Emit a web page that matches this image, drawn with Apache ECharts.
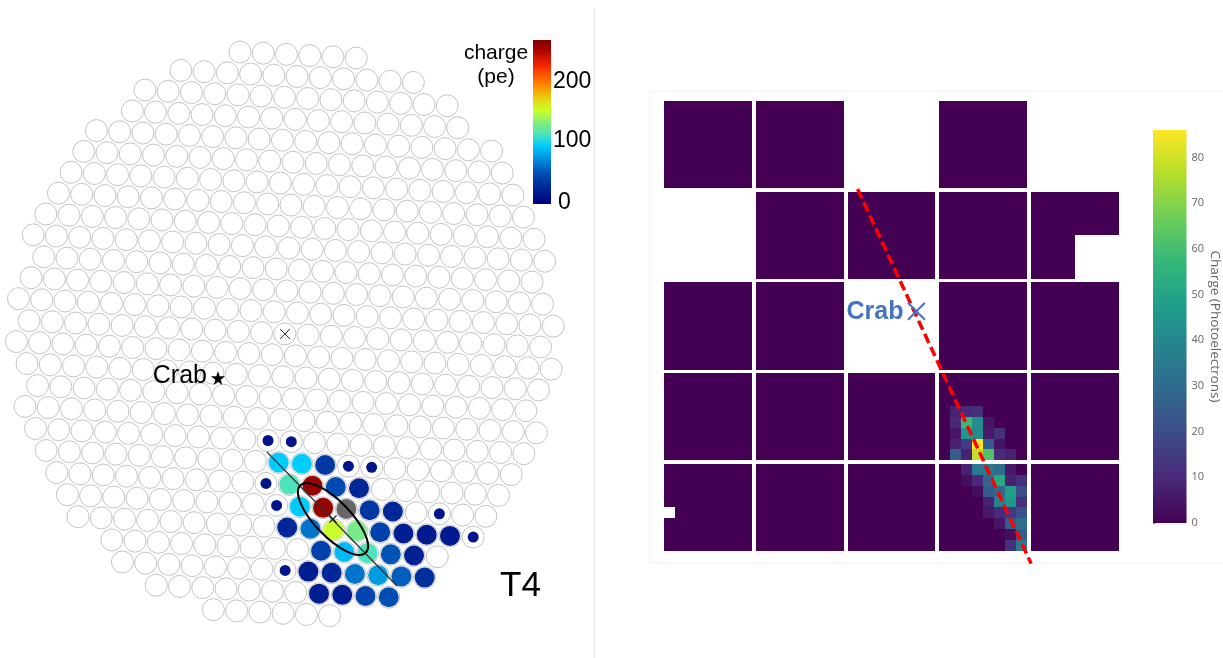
<!DOCTYPE html>
<html>
<head>
<meta charset="utf-8">
<style>html,body{margin:0;padding:0;background:#fff}#chart{width:1223px;height:658px}</style>
<script src="https://cdn.jsdelivr.net/npm/echarts@6/dist/echarts.min.js"></script>
</head>
<body>
<div id="chart"></div>
<script>
// ---- Left camera: lattice rows (row j runs from rowFirst[j] to rowLast[j])
const rowFirst = [0,-2,-3,-3,-4,-4,-4,-4,-4,-4,-3,-3,-3,-2,-2,-1,0,0,1,2,3,4,5,7,8,10,13];
const rowLast  = [5,8,10,11,13,14,15,16,17,18,18,19,20,20,21,21,21,22,22,22,22,22,22,21,21,20,18];
// [i, j, charge in pe]
const hitPixels = [
  [12,19,91],[13,19,91],[14,19,30],
  [13,20,110],[14,20,262],[15,20,40],[16,20,18],
  [14,21,90],[15,21,262],[17,21,30],[18,21,18],
  [14,22,18],[15,22,58],[16,22,150],[17,22,125],[18,22,36],[19,22,12],[20,22,10],[21,22,10],
  [16,23,36],[17,23,85],[18,23,110],[19,23,45],[20,23,14],
  [16,24,12],[17,24,18],[18,24,58],[19,24,72],[20,24,50],[21,24,25],
  [17,25,12],[18,25,12],[19,25,38],[20,25,42]
];
const faintPixels = [[11,18,6],[12,18,6],[15,19,6],[16,19,6],[12,20,6],[13,21,6],[20,21,6],[22,22,6],[15,24,6]];
const brokenPixels = [[16,21]];
const chargeTicks = [0,100,200];
const chargeRange = [-9,271];
const showerAxis = [[267,452],[397,586]];
const hillas = [[333,519,47,17.7,46]]; // centre x, y, semi-major, semi-minor, angle
const centroid = [[333,519]];
const cameraCentre = [[285,334]];
const crabLeft = [[218,378]];

// ---- Right camera: modules [column, row], and pixels with charge [col, row, pe]
const modules = [[0,0],[1,0],[3,0],[1,1],[2,1],[3,1],[4,1],[0,2],[1,2],[3,2],[4,2],[0,3],[1,3],[2,3],[3,3],[4,3],[0,4],[1,4],[2,4],[3,4],[4,4]];
const missingCells = [[36,12],[37,12],[38,12],[39,12],[36,13],[37,13],[38,13],[39,13],[36,14],[37,14],[38,14],[39,14],[36,15],[37,15],[38,15],[39,15],[0,36]];
const litCells = [
  [25,27,8],[26,27,10],[27,27,12],
  [25,28,10],[26,28,58],[27,28,42],[28,28,5],
  [25,29,5],[26,29,45],[27,29,42],[28,29,6],[29,29,12],
  [25,30,8],[26,30,15],[27,30,86],[28,30,25],[29,30,5],
  [25,31,25],[26,31,8],[27,31,78],[28,31,62],[29,31,10],[30,31,8],
  [26,32,8],[27,32,35],[28,32,35],[29,32,30],[30,32,6],
  [26,33,3],[27,33,10],[28,33,28],[29,33,52],[30,33,8],[31,33,12],
  [27,34,3],[28,34,25],[29,34,30],[30,34,48],[31,34,20],
  [28,35,8],[29,35,38],[30,35,45],[31,35,12],
  [28,36,6],[29,36,10],[30,36,15],[31,36,22],
  [29,37,5],[30,37,25],[31,37,30],
  [30,38,3],[31,38,25],
  [30,39,12],[31,39,35]
];
const photoTicks = [0,10,20,30,40,50,60,70,80];
const photoRange = [0,86];
const trackLine = [[17.64,8.09],[33.45,42.48]];
const crabRight = [[23,19.31]];

// ---- Colours
const jet = ['#000080','#001c90','#0038a4','#0060c0','#0098e0','#00ccff','#50e4b8','#88ee78','#ccff28','#e8d010','#ff9000','#ff5500','#ee2000','#b00800','#800000'];
const viridis = ['#440154','#482878','#3e4989','#31688e','#26828e','#1f9e89','#35b779','#6ece58','#b5de2b','#fde725'];

// ---- Lattice geometry of the left camera
const origin = [240,52], stepI = [23.25,1.2], stepJ = [-12.65,20.85];
const place = (i,j) => [origin[0]+stepI[0]*i+stepJ[0]*j, origin[1]+stepI[1]*i+stepJ[1]*j];
const allPixels = [];
rowFirst.forEach((first,j) => { for (let i=first;i<=rowLast[j];i++) allPixels.push(place(i,j)); });
const hitData = hitPixels.map(p => [...place(p[0],p[1]),p[2]]);
const faintData = faintPixels.map(p => [...place(p[0],p[1]),p[2]]);
const brokenData = brokenPixels.map(p => place(p[0],p[1]));

// ---- Right camera cells
const gapX = 0.364, gapY = 0.33;
const cellX = c => c + Math.floor(c/8)*gapX;
const cellY = r => r + Math.floor(r/8)*gapY;
const litMap = {}; litCells.forEach(c => litMap[c[0]+'_'+c[1]] = c[2]);
const missMap = {}; missingCells.forEach(c => missMap[c[0]+'_'+c[1]] = 1);
const cellData = [];
modules.forEach(m => {
  for (let a=0;a<8;a++) for (let b=0;b<8;b++) {
    const c = m[0]*8+a, r = m[1]*8+b, k = c+'_'+r;
    if (!missMap[k]) cellData.push([cellX(c),cellY(r),litMap[k]||0]);
  }
});

const stops = list => list.map((color,k) => ({offset:1-k/(list.length-1),color}));
const barRender = colors => (params,api) => {
  const a = api.coord([0,api.value(1)]), b = api.coord([1,api.value(0)]);
  return {type:'rect',shape:{x:a[0],y:b[1],width:b[0]-a[0],height:a[1]-b[1]},
    style:{fill:new echarts.graphic.LinearGradient(0,0,0,1,stops(colors))}};
};
const hiddenValue = (min,max,extra) => Object.assign({type:'value',min,max,show:false},extra||{});
const XMARK = 'path://M0 0L10 10M10 0L0 10';
const STAR = 'path://M50 0L61.8 36.3H100L69.1 58.8L80.9 95.1L50 72.7L19.1 95.1L30.9 58.8L0 36.3H38.2Z';
const SANS = '"Liberation Sans",Arial,sans-serif';

const chart = echarts.init(document.getElementById('chart'),null,{renderer:'canvas'});
chart.setOption({
  animation:false,
  backgroundColor:'#fff',
  grid:[
    {left:0,top:0,width:595,height:640},
    {left:533,top:40,width:18,height:164},
    {left:664,top:101,width:455,height:450},
    {left:1153,top:130,width:34,height:393}
  ],
  xAxis:[
    hiddenValue(0,595,{gridIndex:0}),
    hiddenValue(0,1,{gridIndex:1}),
    hiddenValue(0,40+4*gapX,{gridIndex:2}),
    hiddenValue(0,1,{gridIndex:3})
  ],
  yAxis:[
    hiddenValue(0,640,{gridIndex:0,inverse:true}),
    {gridIndex:1,type:'value',position:'right',min:chargeRange[0],max:chargeRange[1],
      axisLine:{show:false},axisTick:{show:false},splitLine:{show:false},
      axisLabel:{customValues:chargeTicks,margin:2,color:'#000',fontSize:23,fontFamily:SANS,
        formatter:v => v===0 ? '{z|0}' : String(v),
        rich:{z:{fontSize:23,fontFamily:SANS,color:'#000',padding:[8,0,0,5]}}}},
    hiddenValue(0,40+4*gapY,{gridIndex:2,inverse:true}),
    {gridIndex:3,type:'value',position:'right',min:photoRange[0],max:photoRange[1],
      axisLine:{show:false},splitLine:{show:false},
      axisTick:{customValues:photoTicks,length:3,lineStyle:{color:'#999',width:1}},
      axisLabel:{customValues:photoTicks,margin:5,color:'#666',fontSize:11,fontFamily:'"Open Sans",sans-serif'},
      name:'Charge (Photoelectrons)',nameLocation:'middle',nameRotate:-90,nameGap:17,
      nameTextStyle:{color:'#666',fontSize:13.5,fontFamily:'"Open Sans",sans-serif'}}
  ],
  visualMap:[
    {show:false,type:'continuous',min:chargeRange[0],max:chargeRange[1],dimension:2,seriesIndex:[1,2],inRange:{color:jet}},
    {show:false,type:'continuous',min:photoRange[0],max:photoRange[1],dimension:2,seriesIndex:[9],inRange:{color:viridis}}
  ],
  graphic:[
    {type:'line',silent:true,shape:{x1:594.5,y1:8,x2:594.5,y2:658},style:{stroke:'#e8e8e8',lineWidth:1}},
    {type:'rect',silent:true,z:-1,shape:{x:650,y:91,width:600,height:472},style:{fill:'#fff',stroke:'#f2f2f2',lineWidth:1}},
    {type:'text',silent:true,x:496,y:41,style:{text:'charge\n(pe)',font:'21px '+SANS,fill:'#000',textAlign:'center',lineHeight:24}},
    {type:'text',silent:true,x:500,y:569,style:{text:'T4',font:'35px '+SANS,fill:'#000'}}
  ],
  series:[
    {type:'scatter',xAxisIndex:0,yAxisIndex:0,data:allPixels,symbolSize:22,silent:true,z:2,
      itemStyle:{color:'#fff',borderColor:'#bcbcbc',borderWidth:0.9,opacity:1}},
    {type:'scatter',xAxisIndex:0,yAxisIndex:0,data:hitData,symbolSize:20,silent:true,z:3,itemStyle:{opacity:1}},
    {type:'scatter',xAxisIndex:0,yAxisIndex:0,data:faintData,symbolSize:11,silent:true,z:3,itemStyle:{opacity:1}},
    {type:'scatter',xAxisIndex:0,yAxisIndex:0,data:brokenData,symbolSize:20,silent:true,z:3,itemStyle:{color:'#666',opacity:1}},
    {type:'line',xAxisIndex:0,yAxisIndex:0,data:showerAxis,symbol:'none',silent:true,z:4,lineStyle:{color:'#333',width:1.2}},
    {type:'custom',xAxisIndex:0,yAxisIndex:0,data:hillas,silent:true,z:5,clip:false,
      encode:{x:0,y:1},
      renderItem:(params,api) => {
        const c = api.coord([api.value(0),api.value(1)]);
        const e = api.coord([api.value(0)+api.value(2),api.value(1)]);
        const f = api.coord([api.value(0),api.value(1)+api.value(3)]);
        return {type:'ellipse',x:c[0],y:c[1],rotation:-api.value(4)*Math.PI/180,
          shape:{cx:0,cy:0,rx:Math.abs(e[0]-c[0]),ry:Math.abs(f[1]-c[1])},
          style:{fill:'none',stroke:'#000',lineWidth:2}};
      }},
    {type:'scatter',xAxisIndex:0,yAxisIndex:0,data:centroid,symbol:XMARK,symbolSize:7,silent:true,z:6,
      itemStyle:{color:'none',borderColor:'#222',borderWidth:1.2,opacity:1}},
    {type:'scatter',xAxisIndex:0,yAxisIndex:0,data:cameraCentre,symbol:XMARK,symbolSize:10,silent:true,z:6,
      itemStyle:{color:'none',borderColor:'#333',borderWidth:1,opacity:1}},
    {type:'scatter',xAxisIndex:0,yAxisIndex:0,data:crabLeft,symbol:STAR,symbolSize:14,silent:true,z:6,
      itemStyle:{color:'#000',opacity:1},
      label:{show:true,position:'left',distance:4,formatter:'Crab',color:'#000',fontSize:25,fontFamily:SANS,offset:[0,-2]}},
    {type:'custom',xAxisIndex:2,yAxisIndex:2,data:cellData,silent:true,z:2,clip:false,
      encode:{x:0,y:1},
      renderItem:(params,api) => {
        const a = api.coord([api.value(0),api.value(1)]);
        const b = api.coord([api.value(0)+1,api.value(1)+1]);
        const x0 = Math.round(a[0]), y0 = Math.round(a[1]);
        return {type:'rect',shape:{x:x0,y:y0,width:Math.round(b[0])-x0,height:Math.round(b[1])-y0},
          style:{fill:api.visual('color')}};
      }},
    {type:'line',xAxisIndex:2,yAxisIndex:2,data:trackLine,symbol:'none',silent:true,z:5,clip:false,
      lineStyle:{color:'#ff0000',width:3.5,type:[10,4.5]}},
    {type:'scatter',xAxisIndex:2,yAxisIndex:2,data:crabRight,symbol:XMARK,symbolSize:17,silent:true,z:6,clip:false,
      itemStyle:{color:'none',borderColor:'#4472c4',borderWidth:2,opacity:1},
      label:{show:true,position:'left',distance:2,formatter:'Crab',color:'#4472c4',fontSize:25,fontWeight:'bold',fontFamily:SANS,offset:[0,1]}},
    {type:'custom',xAxisIndex:1,yAxisIndex:1,data:[chargeRange],silent:true,z:2,
      encode:{y:[0,1]},renderItem:barRender(jet)},
    {type:'custom',xAxisIndex:3,yAxisIndex:3,data:[photoRange],silent:true,z:2,
      encode:{y:[0,1]},renderItem:barRender(viridis)}
  ]
});
</script>
</body>
</html>
